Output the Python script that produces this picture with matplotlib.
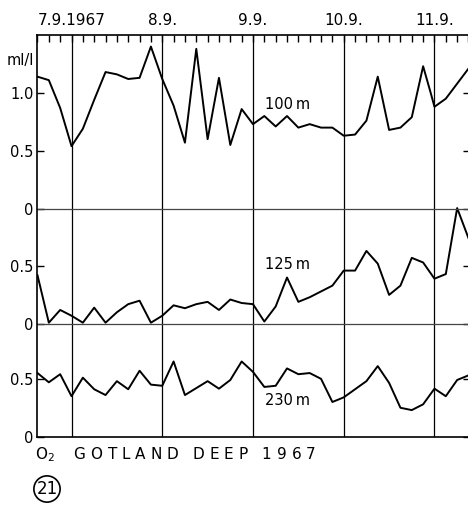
import numpy as np
import matplotlib
matplotlib.use("Agg")
import matplotlib.pyplot as plt

# hours after 7.9.1967 00:00, 3-hourly O2 readings (ml/l)
hours = [-9, -6, -3, 0, 3, 6, 9, 12, 15, 18, 21, 24, 27, 30, 33, 36, 39, 42, 45,
         48, 51, 54, 57, 60, 63, 66, 69, 72, 75, 78, 81, 84, 87, 90, 93, 96, 99,
         102, 105]
hours_100 = [-9, -6, -3, 0, 3, 6, 9, 12, 15, 18, 21, 24, 27, 30, 33, 36, 39, 42,
             45, 48, 51, 54, 57, 60, 63, 66, 69, 72, 75, 78, 81, 84, 87, 90, 93,
             95, 96, 99, 102, 105]
o2_100 = [1.14, 1.11, 0.87, 0.54, 0.69, 0.94, 1.18, 1.16, 1.12, 1.13, 1.40, 1.12,
          0.89, 0.57, 1.38, 0.60, 1.13, 0.55, 0.86, 0.73, 0.80, 0.71, 0.80, 0.70,
          0.73, 0.70, 0.70, 0.63, 0.64, 0.76, 1.14, 0.68, 0.70, 0.79, 1.23, 1.00,
          0.88, 0.95, 1.08, 1.21]
o2_125 = [0.42, 0.01, 0.12, 0.07, 0.01, 0.14, 0.01, 0.10, 0.17, 0.20, 0.01, 0.07,
          0.16, 0.135, 0.17, 0.19, 0.12, 0.21, 0.18, 0.17, 0.02, 0.15, 0.40, 0.19,
          0.23, 0.28, 0.33, 0.46, 0.46, 0.63, 0.52, 0.25, 0.33, 0.57, 0.53, 0.39,
          0.43, 1.00, 0.74]
o2_230 = [0.55, 0.47, 0.54, 0.35, 0.51, 0.41, 0.36, 0.48, 0.41, 0.57, 0.45, 0.44,
          0.65, 0.36, 0.42, 0.48, 0.415, 0.49, 0.65, 0.56, 0.43, 0.44, 0.59, 0.54,
          0.55, 0.50, 0.30, 0.34, 0.41, 0.48, 0.61, 0.465, 0.25, 0.23, 0.28, 0.415,
          0.35, 0.49, 0.53]

day_hours = [0, 24, 48, 72, 96]
day_labels = ["7.9.1967", "8.9.", "9.9.", "10.9.", "11.9."]

# vertical stacking of the three depth panels
off_230, off_125, off_100 = 0.0, 0.975, 1.97

plt.rc('font', family='DejaVu Sans')
fig = plt.figure(figsize=(4.68, 5.05), dpi=100)
ax = fig.add_axes([0.0801, 0.1352, 0.925, 0.7955])

ax.plot(hours_100, np.array(o2_100) + off_100, color='black', lw=1.4)
ax.plot(hours, np.array(o2_125) + off_125, color='black', lw=1.4)
ax.plot(hours, np.array(o2_230) + off_230, color='black', lw=1.4)

for h in day_hours:
    ax.axvline(h, color='black', lw=0.9)
for off in (off_125, off_100):
    ax.axhline(off, color='#444444', lw=0.9)

ax.set_xlim(-9, 105.5)
ax.set_ylim(0, 3.47)

for s in ax.spines.values():
    s.set_linewidth(1.2)

ax.set_xticks(hours)
ax.tick_params(axis='x', bottom=False, top=True, labelbottom=False,
               direction='in', length=5, width=1)
ax.set_yticks([off_230, off_230 + 0.5, off_125, off_125 + 0.5,
               off_100, off_100 + 0.5, off_100 + 1.0])
ax.set_yticklabels(["0", "0.5", "0", "0.5", "0", "0.5", "1.0"])
ax.tick_params(axis='y', left=True, right=True, direction='in', length=5,
               width=1, labelsize=10.5, pad=3)

for h, lab in zip(day_hours, day_labels):
    ax.text(h, 1.018, lab, transform=ax.get_xaxis_transform(), ha='center',
            va='bottom', fontsize=11)

ax.text(57.2, off_100 + 0.90, "100\u2009m", ha='center', va='center', fontsize=10.5)
ax.text(57.2, off_125 + 0.515, "125\u2009m", ha='center', va='center', fontsize=10.5)
ax.text(57.2, off_230 + 0.31, "230\u2009m", ha='center', va='center', fontsize=10.5)

fig.text(20 / 468, 1 - 61 / 505, "ml/l", ha='center', va='center', fontsize=10.5)
fig.text(35 / 468, 1 - 455 / 505,
         "O$_2$    G O T L A N D   D E E P   1 9 6 7",
         ha='left', va='center', fontsize=11)
fig.text(47 / 468, 1 - 489 / 505, "21", ha='center', va='center', fontsize=12,
         bbox=dict(boxstyle='circle,pad=0.15', fc='none', ec='black', lw=1.2))

fig.savefig("out.png", dpi=100, facecolor='white')
